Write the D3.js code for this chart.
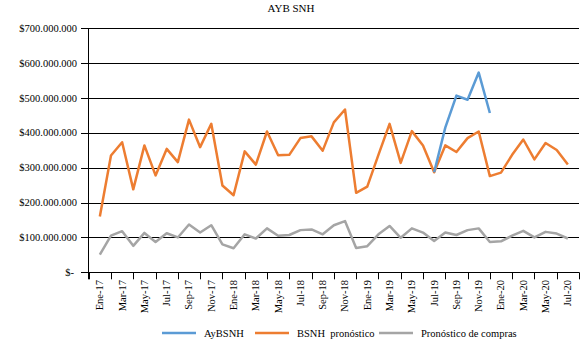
<!DOCTYPE html>
<html>
<head>
<meta charset="utf-8">
<script src="https://cdn.jsdelivr.net/npm/d3@7"></script>
<style>
  body { margin: 0; background: #ffffff; }
  text { font-family: 'Liberation Serif', 'Times New Roman', serif; fill: #000000; }
</style>
</head>
<body>
<svg id="chart" width="587" height="351"></svg>
<script>
// months Ene-17 .. Jul-20
const monthNames = ['Ene', 'Feb', 'Mar', 'Abr', 'May', 'Jun', 'Jul', 'Ago', 'Sep', 'Oct', 'Nov', 'Dic']
const months = []
for (let y = 17; y <= 20; y++) {
  monthNames.forEach(m => { if (months.length < 43) months.push(m + '-' + y) })
}

// values in millions
const bsnhPronostico = [160, 335, 373, 238, 364, 278, 354, 316, 438, 359, 426, 249,
  221, 347, 309, 404, 336, 337, 385, 390, 349, 430, 467, 228, 246, 337, 426, 314,
  405, 364, 287, 364, 345, 385, 404, 276, 286, 337, 381, 324, 371, 351, 309]
const pronosticoCompras = [51, 105, 118, 76, 113, 87, 112, 100, 137, 114, 135, 80,
  69, 109, 97, 126, 105, 107, 121, 123, 109, 135, 147, 70, 75, 109, 133, 99,
  126, 114, 90, 114, 107, 121, 126, 87, 89, 105, 119, 100, 116, 111, 97]
// AyBSNH only covers Jul-19 .. Dic-19
const aybsnh = [null, null, null, null, null, null, null, null, null, null, null, null,
  null, null, null, null, null, null, null, null, null, null, null, null,
  null, null, null, null, null, null, 287, 415, 507, 495, 573, 457,
  null, null, null, null, null, null, null]

const yTicks = [0, 100, 200, 300, 400, 500, 600, 700]

const series = [
  { name: 'AyBSNH', values: aybsnh, color: '#5b9bd5' },
  { name: 'BSNH  pronóstico', values: bsnhPronostico, color: '#ed7d31' },
  { name: 'Pronóstico de compras', values: pronosticoCompras, color: '#a5a5a5' }
]

var svg = d3.select('#chart')

var x = d3.scaleLinear().domain([-1, months.length]).range([88.7, 579])
var y = d3.scaleLinear().domain([0, 700]).range([272.3, 28.3])

var fmt = function (v) {
  if (v === 0) return '$-'
  return '$' + d3.format(',')(v * 1000000).replace(/,/g, '.')
}

svg.append('text')
  .attr('x', 291)
  .attr('y', 12)
  .attr('text-anchor', 'middle')
  .attr('font-size', 11)
  .text('AYB SNH')

// gridlines + y labels
var yAxis = svg.append('g')
yAxis.selectAll('line')
  .data(yTicks).enter()
  .append('line')
  .attr('x1', 81)
  .attr('x2', 579)
  .attr('y1', d => Math.round(y(d)) + 0.5)
  .attr('y2', d => Math.round(y(d)) + 0.5)
  .attr('stroke', '#000000')
  .attr('stroke-width', 1)
yAxis.selectAll('text')
  .data(yTicks).enter()
  .append('text')
  .attr('x', d => d === 0 ? 74 : 77)
  .attr('y', d => y(d) + 3.5)
  .attr('text-anchor', 'end')
  .attr('font-size', 10.5)
  .text(fmt)

// y axis line
svg.append('line')
  .attr('x1', 88.5).attr('x2', 88.5)
  .attr('y1', y(700)).attr('y2', y(0) + 7)
  .attr('stroke', '#000000')

// x ticks between every two months
var tickIdx = d3.range(-1, months.length + 1, 2)
svg.append('g').selectAll('line')
  .data(tickIdx).enter()
  .append('line')
  .attr('x1', d => Math.round(x(d)) + 0.5)
  .attr('x2', d => Math.round(x(d)) + 0.5)
  .attr('y1', y(0))
  .attr('y2', y(0) + 7)
  .attr('stroke', '#000000')

svg.append('g').selectAll('text')
  .data(months.filter((m, i) => i % 2 === 0)).enter()
  .append('text')
  .attr('transform', d => 'translate(' + (x(months.indexOf(d)) + 3.5) + ',' + 280 + ') rotate(-90)')
  .attr('text-anchor', 'end')
  .attr('font-size', 10.5)
  .text(d => d)

var line = d3.line()
  .defined(d => d !== null)
  .x((d, i) => x(i))
  .y(d => y(d))

svg.append('g').selectAll('path')
  .data(series.slice().reverse()).enter()
  .append('path')
  .attr('d', d => line(d.values))
  .attr('fill', 'none')
  .attr('stroke', d => d.color)
  .attr('stroke-width', 2.5)
  .attr('stroke-linejoin', 'round')

// legend
var legendX = [162, 255, 379]
var legend = svg.append('g').selectAll('g')
  .data(series).enter()
  .append('g')
  .attr('transform', (d, i) => 'translate(' + legendX[i] + ',333)')
legend.append('line')
  .attr('x1', 0).attr('x2', 34)
  .attr('y1', 0).attr('y2', 0)
  .attr('stroke', d => d.color)
  .attr('stroke-width', 2.5)
legend.append('text')
  .attr('x', 42)
  .attr('y', 3.5)
  .attr('font-size', 10.5)
  .style('white-space', 'pre')
  .text(d => d.name)
</script>
</body>
</html>
